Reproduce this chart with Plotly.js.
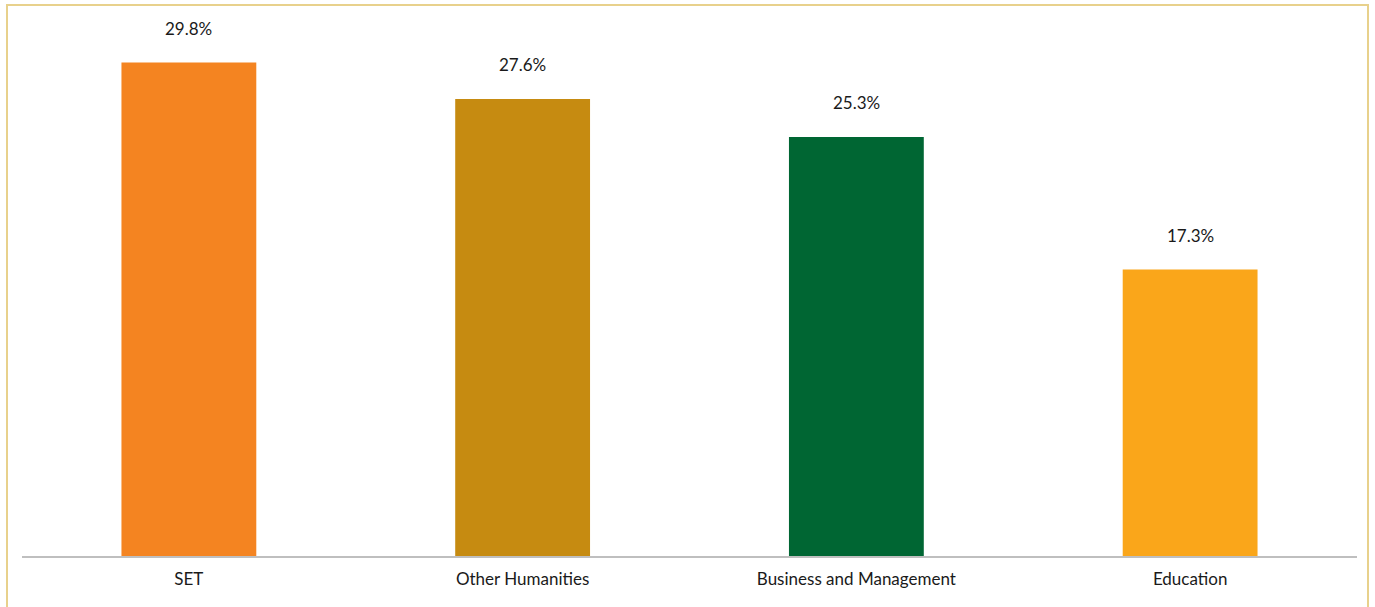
<!DOCTYPE html>
<html>
<head>
<meta charset="utf-8">
<script src="https://cdn.plot.ly/plotly-3.0.1.min.js"></script>
<style>
  html, body { margin: 0; padding: 0; background: #ffffff; }
  #chart { width: 1375px; height: 607px; }
</style>
</head>
<body>
<div id="chart"></div>
<script>
const categories = ["SET", "Other Humanities", "Business and Management", "Education"];
const values = [29.8, 27.6, 25.3, 17.3];
const valueLabels = ["29.8%", "27.6%", "25.3%", "17.3%"];
const barColors = ["#F48421", "#C68B11", "#006633", "#FAA61A"];

const W = 1375, H = 607;
const margin = { l: 22, r: 18, t: 26, b: 51, pad: 0 };
const plotW = W - margin.l - margin.r;
const plotH = H - margin.t - margin.b;

// border frame in pixel coordinates converted to paper units
const frame = { left: 7, right: 1368, top: 5, bottom: 640 };
const px2x = px => (px - margin.l) / plotW;
const px2y = py => (H - margin.b - py) / plotH;

const FONT = "Lato, 'Noto Sans', sans-serif";

const trace = {
  type: "bar",
  x: categories,
  y: values,
  marker: { color: barColors, line: { width: 0 } },
  hoverinfo: "skip"
};

const annotations = categories.map((c, i) => ({
  x: c,
  y: values[i],
  xref: "x",
  yref: "y",
  text: valueLabels[i],
  showarrow: false,
  yanchor: "middle",
  yshift: 34,
  font: { family: FONT, size: 17, color: "#1a1a1a" }
}));

const layout = {
  width: W,
  height: H,
  margin: margin,
  paper_bgcolor: "#ffffff",
  plot_bgcolor: "#ffffff",
  showlegend: false,
  bargap: 0.596,
  font: { family: FONT, size: 17, color: "#1a1a1a" },
  xaxis: {
    showline: true,
    linecolor: "#BFBFBF",
    linewidth: 2,
    ticks: "",
    ticklabelstandoff: 7,
    showgrid: false,
    zeroline: false,
    tickfont: { family: FONT, size: 17, color: "#1a1a1a" },
    fixedrange: true
  },
  yaxis: {
    visible: false,
    range: [0, 32],
    showgrid: false,
    zeroline: false,
    fixedrange: true
  },
  annotations: annotations,
  shapes: [{
    type: "rect",
    xref: "paper",
    yref: "paper",
    x0: px2x(frame.left),
    x1: px2x(frame.right),
    y0: px2y(frame.bottom),
    y1: px2y(frame.top),
    line: { color: "#E8D18C", width: 2 },
    fillcolor: "rgba(0,0,0,0)",
    layer: "above"
  }]
};

Plotly.newPlot("chart", [trace], layout, { displayModeBar: false, staticPlot: true });
</script>
</body>
</html>
